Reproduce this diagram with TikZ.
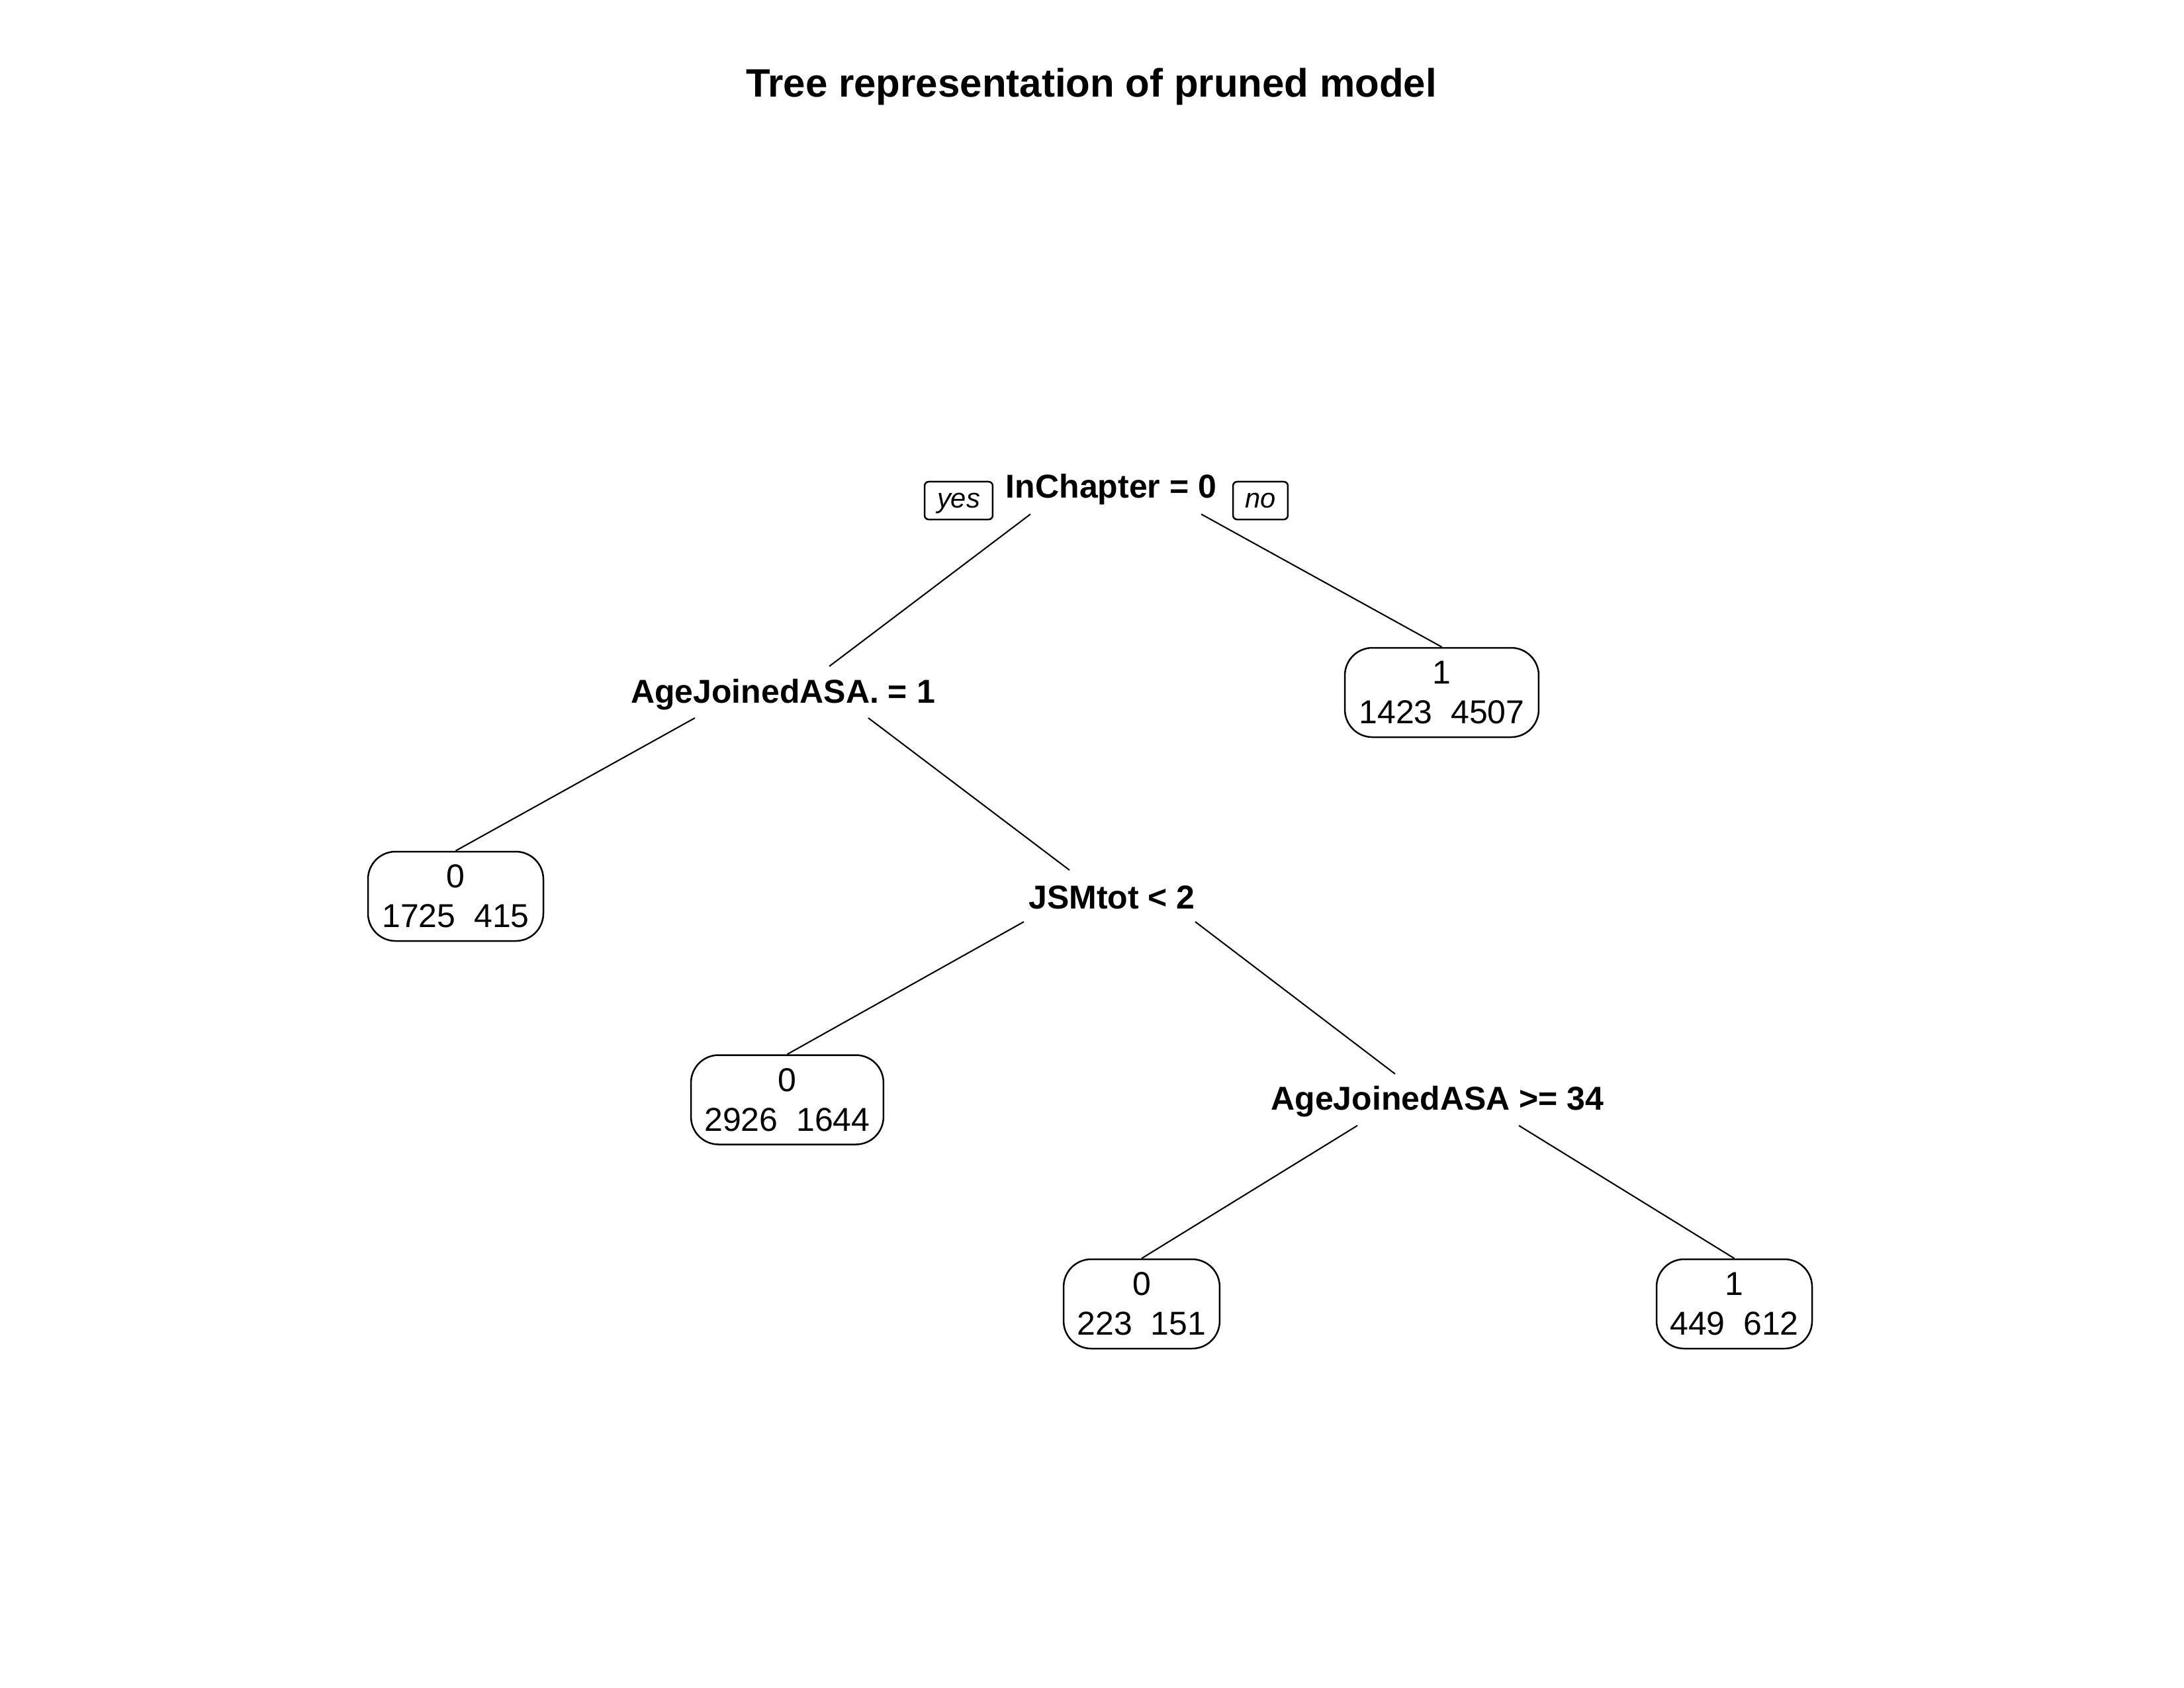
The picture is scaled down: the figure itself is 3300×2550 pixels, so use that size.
\documentclass[tikz,border=0pt]{standalone}
\usepackage{fontspec}
\setmainfont{Liberation Sans}
\usetikzlibrary{calc}
\begin{document}
\begin{tikzpicture}[x=0.24pt,y=-0.24pt,
  titletext/.style={font=\fontsize{14.4}{17}\selectfont\bfseries, anchor=base, inner sep=0},
  split/.style={font=\fontsize{12}{14.4}\selectfont\bfseries, anchor=base, inner sep=0},
  leaf/.style={draw, line width=0.6pt, rounded corners=10pt, minimum height=32.4pt, inner sep=0, align=center, font=\fontsize{12}{14.4}\selectfont},
  tag/.style={draw, line width=0.6pt, rounded corners=1.5pt, font=\fontsize{10}{12}\selectfont\itshape, inner sep=0, minimum height=13.7pt, text height=5.3pt, text depth=0pt},
  branch/.style={line width=0.5pt}]
\fill[white] (0,0) rectangle (3300,2550);
\useasboundingbox (0,0) rectangle (3300,2550);

\node[titletext] (title) at (1649,146) {Tree representation of pruned model};

% split labels
\node[split] (root) at (1679,752) {InChapter = 0};
\node[split] (s2) at (1183,1062) {AgeJoinedASA. = 1};
\node[split] (s3) at (1680,1373) {JSMtot < 2};
\node[split] (s4) at (2172,1677) {AgeJoinedASA >= 34};

% yes / no tags
\node[tag, minimum width=24.7pt] (yes) at (1448.5,756.5) {yes};
\node[tag, minimum width=19.9pt] (no) at (1904.5,756.5) {no};

% leaves
\node[leaf, minimum width=63.6pt] (leafA) at (688.5,1354.5) {0\\1725~~415};
\node[leaf, minimum width=70.3pt] (leafR) at (2178.5,1046.5) {1\\1423~~4507};
\node[leaf, minimum width=69.8pt] (leafB) at (1189.5,1662) {0\\2926~~1644};
\node[leaf, minimum width=56.6pt] (leafC) at (1725,1970.5) {0\\223~~151};
\node[leaf, minimum width=56.4pt] (leafD) at (2620.5,1970.5) {1\\449~~612};

% branches
\draw[branch] ($(root.base)+(-122,25)$) -- ($(s2.base)+(70,-55)$);
\draw[branch] ($(root.base)+(136,25)$) -- (leafR.north);
\draw[branch] ($(s2.base)+(-133,23)$) -- (leafA.north);
\draw[branch] ($(s2.base)+(129,23)$) -- ($(s3.base)+(-64,-58)$);
\draw[branch] ($(s3.base)+(-133,20)$) -- (leafB.north);
\draw[branch] ($(s3.base)+(126,20)$) -- ($(s4.base)+(-64,-54)$);
\draw[branch] ($(s4.base)+(-121,24)$) -- (leafC.north);
\draw[branch] ($(s4.base)+(123,24)$) -- (leafD.north);
\end{tikzpicture}
\end{document}
